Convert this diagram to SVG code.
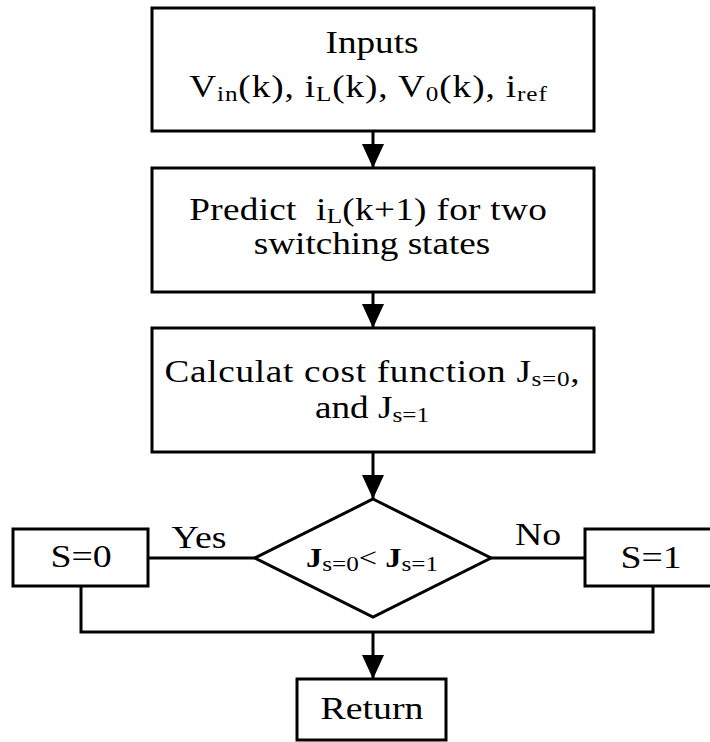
<svg xmlns="http://www.w3.org/2000/svg" width="710" height="742" viewBox="0 0 710 742">
<style>
.box{fill:#fff;stroke:#000;stroke-width:3}
.ln{fill:none;stroke:#000;stroke-width:3}
text{font-family:"Liberation Serif","Times New Roman",serif;font-size:31px;fill:#000;text-anchor:middle;white-space:pre}
.sub{font-size:21px}
</style>
<defs>
<marker id="ah" markerUnits="userSpaceOnUse" markerWidth="24" markerHeight="22" refX="24" refY="11" orient="auto" viewBox="0 0 24 22">
<path d="M0,0 L24,11 L0,22 z" fill="#000"/>
</marker>
</defs>
<g id="connectors">
<line class="ln" x1="373" y1="131" x2="373" y2="168" marker-end="url(#ah)"/>
<line class="ln" x1="373" y1="292" x2="373" y2="328" marker-end="url(#ah)"/>
<line class="ln" x1="373" y1="452" x2="373" y2="499" marker-end="url(#ah)"/>
<line class="ln" x1="148" y1="558" x2="255" y2="558"/>
<line class="ln" x1="491" y1="558" x2="585" y2="558"/>
<polyline class="ln" points="81,586 81,632 653,632 653,586"/>
<line class="ln" x1="373" y1="632" x2="373" y2="679" marker-end="url(#ah)"/>
<g transform="translate(199,548) scale(1.22,1)"><text>Yes</text></g>
<g transform="translate(538,545) scale(1.22,1)"><text>No</text></g>
</g>
<g id="inputs">
<rect class="box" x="152" y="8" width="442" height="123"/>
<g transform="translate(372,53) scale(1.2,1)"><text>Inputs</text></g>
<g transform="translate(368,97) scale(1.2,1)"><text textLength="298" lengthAdjust="spacing">V<tspan class="sub" dy="4">in</tspan><tspan dy="-4">(k), i</tspan><tspan class="sub" dy="4">L</tspan><tspan dy="-4">(k), V</tspan><tspan class="sub" dy="4">0</tspan><tspan dy="-4">(k), i</tspan><tspan class="sub" dy="4">ref</tspan></text></g>
</g>
<g id="predict">
<rect class="box" x="152" y="168" width="442" height="124"/>
<g transform="translate(368,220) scale(1.2,1)"><text textLength="298" lengthAdjust="spacing">Predict  i<tspan class="sub" dy="3">L</tspan><tspan dy="-3">(k+1) for two</tspan></text></g>
<g transform="translate(372,254) scale(1.2,1)"><text>switching states</text></g>
</g>
<g id="cost">
<rect class="box" x="152" y="328" width="442" height="124"/>
<g transform="translate(372,382) scale(1.2,1)"><text textLength="346" lengthAdjust="spacing">Calculat cost function J<tspan class="sub" dy="4">s=0</tspan><tspan dy="-4">,</tspan></text></g>
<g transform="translate(372,418) scale(1.2,1)"><text>and J<tspan class="sub" dy="4">s=1</tspan></text></g>
</g>
<g id="decision">
<polygon class="box" points="373,499 491,558 373,617 255,558"/>
<g transform="translate(372,567) scale(1.2,1)"><text style="font-size:27px"><tspan font-weight="bold">J</tspan><tspan class="sub" dy="4">s=0</tspan><tspan dy="-4">&lt; </tspan><tspan font-weight="bold">J</tspan><tspan class="sub" dy="4">s=1</tspan></text></g>
</g>
<g id="s0">
<rect class="box" x="13" y="529" width="135" height="57"/>
<g transform="translate(81,567) scale(1.22,1)"><text>S=0</text></g>
</g>
<g id="s1">
<rect class="box" x="585" y="529" width="132" height="57"/>
<g transform="translate(651,568) scale(1.22,1)"><text>S=1</text></g>
</g>
<g id="return">
<rect class="box" x="297" y="679" width="149" height="61"/>
<g transform="translate(372,719) scale(1.22,1)"><text>Return</text></g>
</g>
</svg>
